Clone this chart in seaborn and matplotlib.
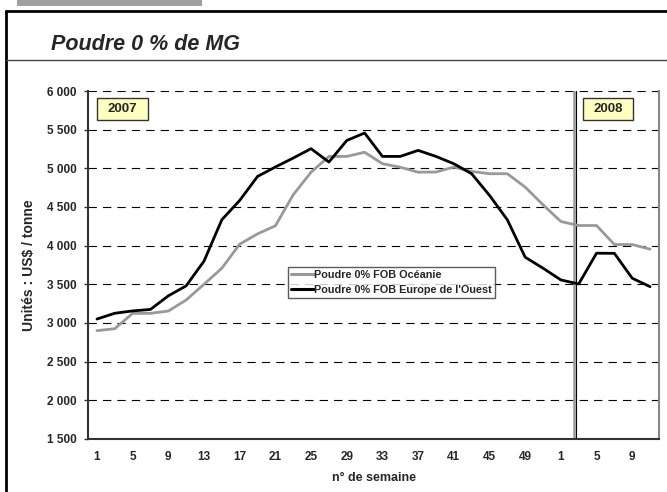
import numpy as np
import pandas as pd
import matplotlib
matplotlib.use("Agg")
import matplotlib.pyplot as plt
from matplotlib.lines import Line2D
from matplotlib.patches import Rectangle
import seaborn as sns

# semaines : 2007 (1,3,...,51) puis 2008 (1,3,...,11)
weeks_2007 = list(range(1, 52, 2))
weeks_2008 = list(range(1, 12, 2))
week_labels = [str(w) for w in weeks_2007 + weeks_2008]

oceanie = [2900, 2925, 3124, 3124, 3154, 3297, 3500, 3708, 4019, 4152, 4256, 4658, 4950,
           5154, 5154, 5208, 5060, 5014, 4950, 4952, 5017, 4960, 4930, 4930, 4757, 4528,
           4312, 4260, 4260, 4014, 4014, 3954]
europe = [3050, 3125, 3155, 3175, 3350, 3480, 3800, 4335, 4585, 4895, 5017, 5133, 5254,
          5081, 5360, 5457, 5154, 5154, 5232, 5154, 5059, 4930, 4650, 4334, 3850, 3708,
          3556, 3504, 3902, 3900, 3578, 3469]

series_names = ["Poudre 0% FOB Océanie", "Poudre 0% FOB Europe de l'Ouest"]
y_ticks = list(range(1500, 6001, 500))

pos = np.arange(len(week_labels))
df = pd.DataFrame({
    "pos": np.concatenate([pos, pos]),
    "prix": oceanie + europe,
    "serie": [series_names[0]] * len(pos) + [series_names[1]] * len(pos),
})

sns.set_style("white")
plt.rcParams["font.family"] = ["Liberation Sans", "DejaVu Sans"]
plt.rcParams["font.weight"] = "bold"

fig = plt.figure(figsize=(6.67, 4.92), dpi=100)
ax = fig.add_axes([0.132, 0.108, 0.856, 0.707])

sns.lineplot(data=df, x="pos", y="prix", hue="serie",
             palette={series_names[0]: "#999999", series_names[1]: "black"},
             linewidth=2, ax=ax, legend=False, zorder=3)

ax.set_xlim(-0.5, len(pos) - 0.5)
ax.set_ylim(1500, 6000)
ax.set_yticks(y_ticks)
ax.set_yticklabels([f"{v:,}".replace(",", " ") for v in y_ticks], fontsize=8.5, fontweight="bold")
ax.set_xticks(pos[::2])
ax.set_xticklabels(week_labels[::2], fontsize=8.5, fontweight="bold")
ax.set_xticks(np.arange(-0.5, len(pos) + 0.5, 1), minor=True)
ax.tick_params(axis="x", which="major", length=0, pad=9)
ax.tick_params(axis="x", which="minor", length=3, width=1, color="#333333", direction="out")
ax.tick_params(axis="y", length=3, width=1, color="#333333", direction="out", pad=5, left=True)

ax.yaxis.grid(True, linestyle=(0, (7.5, 5.5)), color="black", linewidth=0.8)
ax.set_axisbelow(True)

for s in ["left", "bottom"]:
    ax.spines[s].set_color("#333333")
    ax.spines[s].set_linewidth(1.5)
ax.spines["top"].set_visible(False)
ax.spines["right"].set_color("#888888")
ax.spines["right"].set_linewidth(1.5)

# séparation 2007 / 2008
ax.axvline(26.71, color="#999999", linewidth=1.8, zorder=2)
ax.axvline(26.83, color="black", linewidth=0.8, zorder=2)

ax.set_xlabel("n° de semaine", fontsize=9, fontweight="bold", labelpad=6.5)
ax.set_ylabel("Unités : US$ / tonne", fontsize=10, fontweight="bold", labelpad=8)

# encadrés des années
for x0, x1, year in [(0.016, 0.105, "2007"), (0.867, 0.954, "2008")]:
    ax.add_patch(Rectangle((x0, 0.917), x1 - x0, 0.063, transform=ax.transAxes,
                           facecolor="#FFFFC0", edgecolor="#333333", linewidth=1, zorder=5))
    ax.text((x0 + x1) / 2, 0.9485, year, transform=ax.transAxes, fontsize=9.5,
            fontweight="bold", ha="center", va="center", zorder=6)

handles = [Line2D([], [], color="#999999", linewidth=2.2),
           Line2D([], [], color="black", linewidth=2.2)]
leg = ax.legend(handles, series_names, loc="upper left", bbox_to_anchor=(0.35, 0.494),
                fontsize=7.8, frameon=True, fancybox=False, handlelength=2.1,
                handletextpad=0.05, borderpad=0.3, labelspacing=0.45, borderaxespad=0)
leg.get_frame().set_edgecolor("#333333")
leg.get_frame().set_linewidth(1)
for t in leg.get_texts():
    t.set_fontweight("bold")

# cadre de la page
fig.add_artist(Rectangle((17 / 667, 1 - 6 / 492), 185 / 667, 6 / 492,
                         transform=fig.transFigure, facecolor="#a0a0a0", edgecolor="none"))
fig.add_artist(Line2D([5.5 / 667, 5.5 / 667], [0, 1 - 11 / 492], transform=fig.transFigure,
                      color="black", linewidth=2))
fig.add_artist(Line2D([5.5 / 667, 1], [1 - 11 / 492, 1 - 11 / 492], transform=fig.transFigure,
                      color="black", linewidth=2))
fig.add_artist(Line2D([5.5 / 667, 1], [1 - 60 / 492, 1 - 60 / 492], transform=fig.transFigure,
                      color="#444444", linewidth=1))
fig.text(51 / 667, 1 - 44 / 492, "Poudre 0 % de MG", fontsize=15.5, fontweight="bold",
         fontstyle="italic", ha="left", va="center")

fig.savefig("out.png", dpi=100)
